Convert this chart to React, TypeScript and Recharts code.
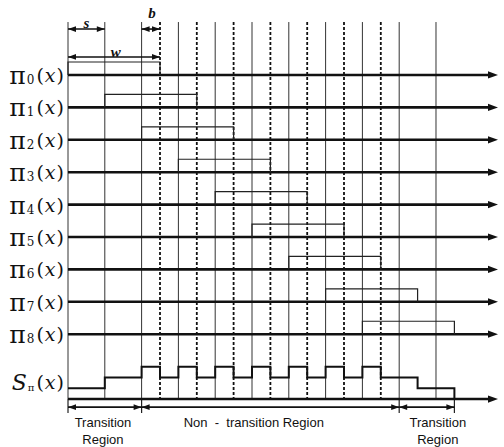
import { ComposedChart, Line, ReferenceLine, Scatter, XAxis, YAxis } from "recharts"

// pulse train: one row per pi_k, all widths in units of the step s
const rowIndex = ["0", "1", "2", "3", "4", "5", "6", "7", "8"]
const pulseStarts = [0, 1, 2, 3, 4, 5, 6, 7, 8]
const pulseWidth = 2.5
const rowBaselines = [0, -3, -6, -9, -12, -15, -18, -21, -24]

// S_pi(x) = number of pulses overlapping, read at each step edge
const sumEdges = [0, 1, 2, 2.5, 3, 3.5, 4, 4.5, 5, 5.5, 6, 6.5, 7, 7.5, 8, 8.5, 9.5, 10.5]
const sumLevels = [1, 2, 3, 2, 3, 2, 3, 2, 3, 2, 3, 2, 3, 2, 3, 2, 1, 0]

const solidGrid = [0, 1, 2, 3, 4, 5, 6, 7, 8, 9, 10]
const dashedGrid = [2.5, 3.5, 4.5, 5.5, 6.5, 7.5, 8.5]
const regionEdges = [0, 2, 9, 10.5]
const regionNames = [["Transition", "Region"], ["Non  -  transition Region"], ["Transition", "Region"]]

const dimNames = ["s", "b", "w"]
const dimFrom = [0, 2, 0]
const dimTo = [1, 2.5, 2.5]

// layout (data units)
const X_MIN = -1.848
const X_MAX = 11.848
const Y_MIN = -34.44
const Y_MAX = 6.94
const AXIS_END = 11.685
const PULSE_H = 1.2
const SUM_BASE = -30
const GRID_TOP = 4.9
const REGION_Y = -30.75
const REGION_BOTTOM = -31.3
const dimY = [4.25, 4.25, 1.67]
const dimLabelPos = [
  { x: 0.5, y: 4.85 },
  { x: 2.28, y: 5.75 },
  { x: 1.3, y: 2.1 },
]
const regionLabelX = [0.95, 5.05, 10.05]

const serif = "'DejaVu Serif', 'Liberation Serif', serif"
const sans = "'Liberation Sans', Arial, sans-serif"

const pulseData = pulseStarts.map((start, i) => {
  const b = rowBaselines[i]
  return [
    { x: start, y: b },
    { x: start, y: b + PULSE_H },
    { x: start + pulseWidth, y: b + PULSE_H },
    { x: start + pulseWidth, y: b },
  ]
})

const sumData = sumEdges.map((x, i) => ({ x, y: SUM_BASE + sumLevels[i] }))

const axisRows = [...rowBaselines, SUM_BASE]

// arrow heads: big ones on the axes, small ones on the dimension / region arrows
const axisHeads = axisRows.map((y) => ({ x: AXIS_END, y, dir: 1, size: 1 }))
const dimHeads = dimNames.flatMap((_, i) => [
  { x: dimFrom[i], y: dimY[i], dir: -1, size: 0.8 },
  { x: dimTo[i], y: dimY[i], dir: 1, size: 0.8 },
])
const regionHeads = regionNames.flatMap((_, i) => [
  { x: regionEdges[i], y: REGION_Y, dir: -1, size: 0.8 },
  { x: regionEdges[i + 1], y: REGION_Y, dir: 1, size: 0.8 },
])
const heads = [...axisHeads, ...dimHeads, ...regionHeads]

const rowLabels = [
  ...rowIndex.map((sub, i) => ({ x: -0.11, y: rowBaselines[i], sub, kind: "pi" })),
  { x: -0.11, y: -28.45, sub: "π", kind: "sum" },
]

const dimLabels = dimNames.map((name, i) => ({ ...dimLabelPos[i], name }))

const regionLabels = regionNames.flatMap((lines, i) =>
  lines.map((text, j) => ({ x: regionLabelX[i], y: j === 0 ? -32.2 : -33.7, text }))
)

function ArrowHead(props: any) {
  const { cx, cy, payload } = props
  const L = 10 * payload.size
  const H = 3.6 * payload.size
  const d = payload.dir
  return <polygon points={`${cx},${cy} ${cx - d * L},${cy - H} ${cx - d * L},${cy + H}`} fill="#111" />
}

function RowLabel(props: any) {
  const { cx, cy, payload } = props
  const isPi = payload.kind === "pi"
  return (
    <text x={cx} y={cy} textAnchor="end" dominantBaseline="central" fontFamily={serif} fontSize={19} fill="#111">
      {isPi ? (
        <tspan fontSize={25}>π</tspan>
      ) : (
        <tspan fontSize={22} fontStyle="italic">
          S
        </tspan>
      )}
      <tspan fontSize={isPi ? 12 : 10} dx={1} dy={5}>
        {payload.sub}
      </tspan>
      <tspan dx={2} dy={-5}>
        (
      </tspan>
      <tspan fontStyle="italic" dx={1}>
        x
      </tspan>
      <tspan dx={1}>)</tspan>
    </text>
  )
}

function DimLabel(props: any) {
  const { cx, cy, payload } = props
  return (
    <text
      x={cx}
      y={cy}
      textAnchor="middle"
      dominantBaseline="central"
      fontFamily="'Liberation Serif', serif"
      fontSize={15}
      fontWeight="bold"
      fontStyle="italic"
      fill="#111"
    >
      {payload.name}
    </text>
  )
}

function RegionLabel(props: any) {
  const { cx, cy, payload } = props
  return (
    <text x={cx} y={cy} textAnchor="middle" dominantBaseline="central" fontFamily={sans} fontSize={13} fill="#111" style={{ whiteSpace: "pre" }}>
      {payload.text}
    </text>
  )
}

export default function App() {
  return (
    <div style={{ position: "absolute", left: 0, top: 0, background: "#fff" }}>
      <ComposedChart width={504} height={447} margin={{ top: 0, right: 0, bottom: 0, left: 0 }}>
        <XAxis type="number" dataKey="x" domain={[X_MIN, X_MAX]} allowDataOverflow hide />
        <YAxis type="number" dataKey="y" domain={[Y_MIN, Y_MAX]} allowDataOverflow hide />

        {solidGrid.map((x) => (
          <ReferenceLine
            key={`g${x}`}
            segment={[{ x, y: GRID_TOP }, { x, y: SUM_BASE }]}
            stroke="#333"
            strokeWidth={1}
            ifOverflow="visible"
          />
        ))}
        {dashedGrid.map((x) => (
          <ReferenceLine
            key={`d${x}`}
            segment={[{ x, y: GRID_TOP }, { x, y: SUM_BASE }]}
            stroke="#111"
            strokeWidth={1.8}
            strokeDasharray="3 2"
            ifOverflow="visible"
          />
        ))}
        {regionEdges.map((x) => (
          <ReferenceLine
            key={`r${x}`}
            segment={[{ x, y: SUM_BASE }, { x, y: REGION_BOTTOM }]}
            stroke="#222"
            strokeWidth={1.2}
            ifOverflow="visible"
          />
        ))}
        {regionNames.map((_, i) => (
          <ReferenceLine
            key={`ra${i}`}
            segment={[{ x: regionEdges[i], y: REGION_Y }, { x: regionEdges[i + 1], y: REGION_Y }]}
            stroke="#111"
            strokeWidth={1.6}
            ifOverflow="visible"
          />
        ))}
        {dimNames.map((n, i) => (
          <ReferenceLine
            key={`dim${n}`}
            segment={[{ x: dimFrom[i], y: dimY[i] }, { x: dimTo[i], y: dimY[i] }]}
            stroke="#111"
            strokeWidth={1.6}
            ifOverflow="visible"
          />
        ))}
        {axisRows.map((y) => (
          <ReferenceLine
            key={`ax${y}`}
            segment={[{ x: 0, y }, { x: AXIS_END - 0.2, y }]}
            stroke="#111"
            strokeWidth={2.6}
            ifOverflow="visible"
          />
        ))}

        {pulseData.map((data, i) => (
          <Line
            key={`p${i}`}
            data={data}
            dataKey="y"
            type="linear"
            stroke="#222"
            strokeWidth={1.2}
            dot={false}
            activeDot={false}
            isAnimationActive={false}
          />
        ))}
        <Line
          data={sumData}
          dataKey="y"
          type="stepAfter"
          stroke="#111"
          strokeWidth={2}
          dot={false}
          activeDot={false}
          isAnimationActive={false}
        />

        <Scatter data={heads} dataKey="y" shape={ArrowHead} isAnimationActive={false} />
        <Scatter data={rowLabels} dataKey="y" shape={RowLabel} isAnimationActive={false} />
        <Scatter data={dimLabels} dataKey="y" shape={DimLabel} isAnimationActive={false} />
        <Scatter data={regionLabels} dataKey="y" shape={RegionLabel} isAnimationActive={false} />
      </ComposedChart>
    </div>
  )
}
